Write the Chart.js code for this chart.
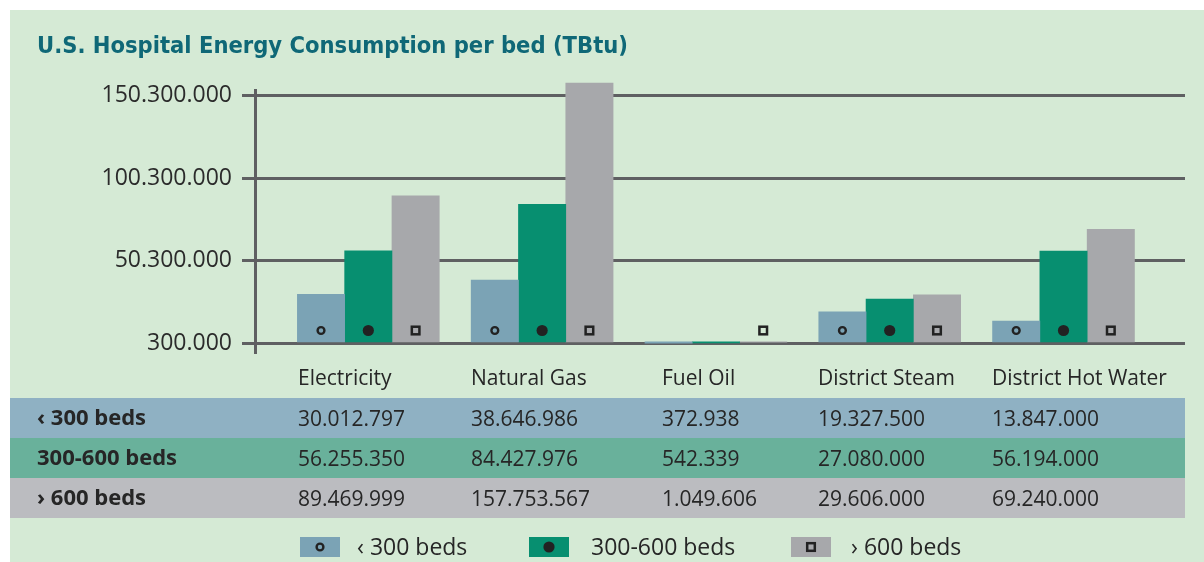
<!DOCTYPE html>
<html>
<head>
<meta charset="utf-8">
<script src="https://cdn.jsdelivr.net/npm/chart.js@4.4.1/dist/chart.umd.min.js"></script>
<style>
  html, body { margin: 0; padding: 0; background: #ffffff; }
  body { width: 1204px; height: 562px; position: relative; overflow: hidden; font-family: "Open Sans", sans-serif; color: #262626; }
  #panel { position: absolute; left: 10px; top: 10px; right: 0; bottom: 0; background: #d5ead5; }
  #chart { position: absolute; left: 0; top: 0; }
  .cell { position: absolute; white-space: nowrap; line-height: 40px; height: 40px; font-size: 21px; }
  .row { position: absolute; left: 10px; width: 1175px; height: 40px; }
  .lab { font-weight: bold; font-size: 22px; }
  .lg-box { position: absolute; top: 537px; width: 40px; height: 20px; }
  .lg-text { position: absolute; top: 529px; line-height: 34px; font-size: 23px; white-space: nowrap; }
</style>
</head>
<body>
<div id="panel"></div>
<canvas id="chart" width="1204" height="562"></canvas>
<div id="table"></div>
<div id="legend"></div>
<script>
// ---- data ----
const categories = ['Electricity', 'Natural Gas', 'Fuel Oil', 'District Steam', 'District Hot Water'];
const seriesNames = ['\u2039 300 beds', '300-600 beds', '\u203A 600 beds'];
const under300 = [30012797, 38646986, 372938, 19327500, 13847000];
const between300and600 = [56255350, 84427976, 542339, 27080000, 56194000];
const over600 = [89469999, 157753567, 1049606, 29606000, 69240000];
const yTickValues = [300000, 50300000, 100300000, 150300000];

// ---- styles ----
const barColors = ['#7ba3b5', '#078f70', '#a7a8ab'];
const rowColors = ['#8fb1c3', '#69b19b', '#bbbcc0'];
const markerKinds = ['ring', 'dot', 'square'];
const ink = '#222222';
const markerMinValue = 1000000; // bars smaller than this carry no marker in the original

function fmt(v) {
  return String(Math.round(v)).replace(/\B(?=(\d{3})+(?!\d))/g, '.');
}

function drawMarker(ctx, kind, x, y) {
  ctx.save();
  ctx.strokeStyle = ink;
  ctx.fillStyle = ink;
  if (kind === 'ring') {
    ctx.lineWidth = 2.4;
    ctx.beginPath(); ctx.arc(x, y, 3.4, 0, Math.PI * 2); ctx.stroke();
  } else if (kind === 'dot') {
    ctx.beginPath(); ctx.arc(x, y, 5.6, 0, Math.PI * 2); ctx.fill();
  } else {
    ctx.lineWidth = 2.5;
    ctx.strokeRect(x - 3.8, y - 3.8, 7.6, 7.6);
  }
  ctx.restore();
}

const markerPlugin = {
  id: 'barMarkers',
  afterDatasetsDraw(chart) {
    const ctx = chart.ctx;
    chart.data.datasets.forEach((ds, di) => {
      const meta = chart.getDatasetMeta(di);
      meta.data.forEach((bar, i) => {
        if (ds.data[i].y < markerMinValue) return;
        const p = bar.getProps(['x', 'base'], true);
        drawMarker(ctx, markerKinds[di], p.x, p.base - 11.4);
      });
    });
  }
};

const seriesValues = [under300, between300and600, over600];
const datasets = seriesValues.map((vals, si) => ({
  label: seriesNames[si],
  data: vals.map((v, i) => ({ x: i, y: v })),
  backgroundColor: barColors[si],
  borderWidth: 0,
  barThickness: 47.3,
  base: yTickValues[0],
  clip: false
}));

const gridColor = '#5f6062';

new Chart(document.getElementById('chart'), {
  type: 'bar',
  data: { datasets },
  options: {
    responsive: false,
    animation: false,
    devicePixelRatio: 1,
    layout: { padding: { left: 37, right: 19, top: 0, bottom: 210 } },
    plugins: {
      legend: { display: false },
      tooltip: { enabled: false },
      title: {
        display: true,
        text: 'U.S. Hospital Energy Consumption per bed (TBtu)',
        align: 'start',
        color: '#0f6877',
        font: { family: "'DejaVu Sans Condensed', 'Liberation Sans Narrow', 'DejaVu Sans', sans-serif", size: 23.5, weight: 'bold' },
        padding: { top: 32.9, bottom: 28.9 }
      }
    },
    scales: {
      x: {
        type: 'linear',
        display: false,
        offset: false,
        min: -0.652,
        max: 4.699,
        afterBuildTicks: s => { s.ticks = categories.map((c, i) => ({ value: i })); }
      },
      y: {
        min: -4890000,
        max: 153500000,
        afterBuildTicks: s => { s.ticks = yTickValues.map(v => ({ value: v })); },
        afterFit: s => { s.width = 255 - 37; },
        grid: { color: gridColor, lineWidth: 3, tickLength: 13, drawTicks: true },
        border: { display: true, color: gridColor, width: 3 },
        ticks: {
          padding: 10,
          color: '#2b2b2b',
          font: { family: "'Open Sans', sans-serif", size: 23 },
          callback: v => fmt(v)
        }
      }
    }
  },
  plugins: [markerPlugin]
});

// ---- data table under the chart ----
const colX = [298, 471, 662, 818, 992];
const table = document.getElementById('table');
categories.forEach((c, i) => {
  const s = document.createElement('div');
  s.className = 'cell';
  s.style.left = colX[i] + 'px';
  s.style.top = '357px';
  s.textContent = c;
  table.appendChild(s);
});
seriesValues.forEach((vals, si) => {
  const top = 398 + si * 40;
  const r = document.createElement('div');
  r.className = 'row';
  r.style.top = top + 'px';
  r.style.background = rowColors[si];
  table.appendChild(r);
  const l = document.createElement('div');
  l.className = 'cell lab';
  l.style.left = '37px';
  l.style.top = (top - 2) + 'px';
  l.textContent = seriesNames[si];
  table.appendChild(l);
  vals.forEach((v, i) => {
    const s = document.createElement('div');
    s.className = 'cell';
    s.style.left = colX[i] + 'px';
    s.style.top = top + 'px';
    s.textContent = fmt(v);
    table.appendChild(s);
  });
});

// ---- legend ----
const legendBoxX = [300, 529, 791];
const legendTextX = [357, 591, 851];
const legend = document.getElementById('legend');
seriesNames.forEach((n, si) => {
  const c = document.createElement('canvas');
  c.width = 40; c.height = 20;
  c.className = 'lg-box';
  c.style.left = legendBoxX[si] + 'px';
  const cx = c.getContext('2d');
  cx.fillStyle = barColors[si];
  cx.fillRect(0, 0, 40, 20);
  drawMarker(cx, markerKinds[si], 20, 10);
  legend.appendChild(c);
  const t = document.createElement('div');
  t.className = 'lg-text';
  t.style.left = legendTextX[si] + 'px';
  t.textContent = n;
  legend.appendChild(t);
});
</script>
</body>
</html>
